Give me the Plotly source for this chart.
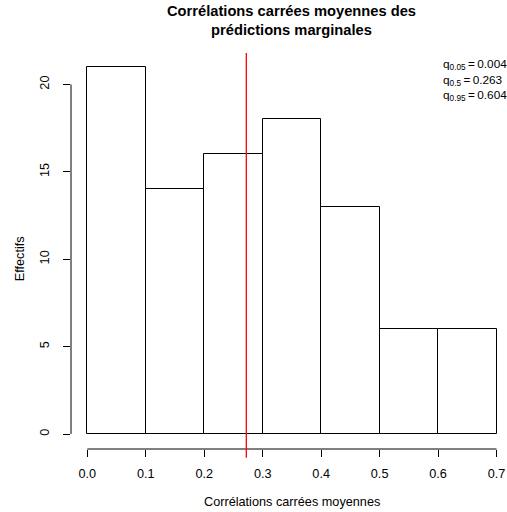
import plotly.graph_objects as go

bin_left = [0.0, 0.1, 0.2, 0.3, 0.4, 0.5, 0.6]
counts = [21, 14, 16, 18, 13, 6, 6]
mean_value = 0.272
x_ticks = [0.0, 0.1, 0.2, 0.3, 0.4, 0.5, 0.6, 0.7]
y_ticks = [0, 5, 10, 15, 20]
quant_labels = ["0.05", "0.5", "0.95"]
quant_values = ["0.004", "0.263", "0.604"]

FONT = "Liberation Sans, Arial, Helvetica, sans-serif"
width = 0.1
mids = [b + width / 2 for b in bin_left]

fig = go.Figure()
fig.add_trace(go.Bar(
    x=mids, y=counts, width=[width] * len(mids),
    marker=dict(color="white", line=dict(color="black", width=1)),
    hoverinfo="skip",
))

fig.update_layout(
    width=507, height=512,
    margin=dict(l=71, r=0, t=53, b=63),
    plot_bgcolor="white", paper_bgcolor="white",
    showlegend=False,
    font=dict(family=FONT, size=12.7, color="black"),
    bargap=0,
    xaxis=dict(
        range=[-0.0279, 0.7179], tickvals=x_ticks, tickformat=".1f",
        ticks="outside", ticklen=7, tickcolor="black", tickwidth=1,
        showgrid=False, zeroline=False, showline=False,
        tickfont=dict(size=12.7, family=FONT, color="black"),
        ticklabelstandoff=6,
    ),
    yaxis=dict(
        range=[-0.858, 21.80], tickvals=y_ticks,
        ticks="outside", ticklen=7, tickcolor="black", tickwidth=1,
        showgrid=False, zeroline=False, showline=False, tickangle=-90,
        tickfont=dict(size=12.7, family=FONT, color="black"),
        ticklabelstandoff=9,
    ),
)

# R-style axis lines spanning first to last tick
fig.add_shape(type="line", xref="x", yref="paper", x0=x_ticks[0], x1=x_ticks[-1],
              y0=0, y1=0, line=dict(color="black", width=1))
fig.add_shape(type="line", xref="paper", yref="y", x0=0, x1=0,
              y0=y_ticks[0], y1=y_ticks[-1], line=dict(color="black", width=1))

# mean line
fig.add_shape(type="line", xref="x", yref="paper", x0=mean_value, x1=mean_value,
              y0=-0.022, y1=1, line=dict(color="red", width=1.3))

# Title
fig.add_annotation(xref="x", yref="paper", x=0.35, y=1 + (53 - 21) / 396,
                   text="<b>Corrélations carrées moyennes des<br>prédictions marginales</b>",
                   showarrow=False, font=dict(size=14.7, family=FONT, color="black"),
                   xanchor="center", yanchor="middle", align="center")

# Axis titles
fig.add_annotation(xref="x", yref="paper", x=0.35, y=-(501.7 - 449) / 396,
                   text="Corrélations carrées moyennes", showarrow=False,
                   font=dict(size=12.7, family=FONT), xanchor="center", yanchor="middle")
fig.add_annotation(xref="paper", yref="y", x=-(71 - 20) / 436, y=10,
                   text="Effectifs", showarrow=False, textangle=-90,
                   font=dict(size=12.7, family=FONT), xanchor="center", yanchor="middle")

# Quantile legend
for i, (ql, qv) in enumerate(zip(quant_labels, quant_values)):
    ypx = 65 + 15.2 * i
    fig.add_annotation(xref="paper", yref="paper", x=(441 - 71) / 436,
                       y=1 - (ypx - 53) / 396,
                       text=f"q<sub>{ql}</sub>\u2009=\u2009{qv}", showarrow=False,
                       font=dict(size=11.8, family=FONT),
                       xanchor="left", yanchor="middle", align="left")

fig.write_html("out.html", config={"displayModeBar": False},
               post_script="document.body.style.margin='0px';")
